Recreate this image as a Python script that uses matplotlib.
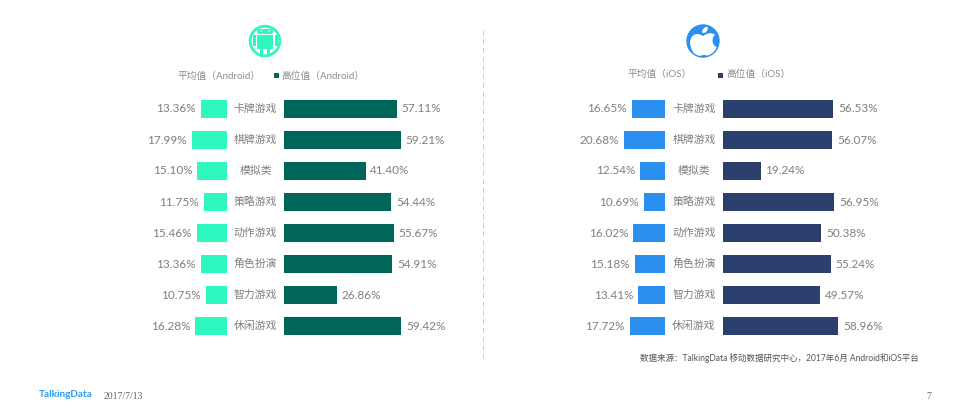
import matplotlib
matplotlib.use("Agg")
import matplotlib.pyplot as plt
from matplotlib.patches import Circle, Rectangle, FancyBboxPatch, Ellipse, PathPatch
from matplotlib.path import Path

W, H = 968, 419
FONT = ['Lato', 'Noto Sans CJK SC', 'DejaVu Sans']
plt.rcParams['font.family'] = FONT

categories = ['卡牌游戏', '棋牌游戏', '模拟类', '策略游戏', '动作游戏', '角色扮演', '智力游戏', '休闲游戏']
android_avg = [13.36, 17.99, 15.10, 11.75, 15.46, 13.36, 10.75, 16.28]
android_high = [57.11, 59.21, 41.40, 54.44, 55.67, 54.91, 26.86, 59.42]
ios_avg = [16.65, 20.68, 12.54, 10.69, 16.02, 15.18, 13.41, 17.72]
ios_high = [56.53, 56.07, 19.24, 56.95, 50.38, 55.24, 49.57, 58.96]

GREY = '#7f7f7f'
C_AA, C_AH = '#2ef7bf', '#00665a'
C_IA, C_IH = '#2b8ff0', '#2c406e'

fig = plt.figure(figsize=(W / 100, H / 100), dpi=100, facecolor='white')


def panel(x0, x1, scale, reverse=False):
    ax = fig.add_axes([x0 / W, 1 - 341.5 / H, (x1 - x0) / W, 248 / H])
    span = (x1 - x0) / scale
    ax.set_xlim(span, 0) if reverse else ax.set_xlim(0, span)
    ax.set_ylim(7.5, -0.5)
    ax.axis('off')
    return ax


def bars(ax, vals, color, reverse=False):
    ax.barh(range(len(vals)), vals, height=0.55, color=color)
    for i, v in enumerate(vals):
        ax.annotate(f'{v:.2f}%', (v, i), xytext=(-3.5 if reverse else 3.5, 0), textcoords='offset points',
                    ha='right' if reverse else 'left', va='center', fontsize=8.5, color=GREY,
                    annotation_clip=False)


for (ax_x, avg, high, ca, ch, sa, sh) in [
    ((127, 227, 284, 420), android_avg, android_high, C_AA, C_AH, 1.97, 1.97),
    ((565, 665, 723, 860), ios_avg, ios_high, C_IA, C_IH, 1.98, 1.95),
]:
    a = panel(ax_x[0], ax_x[1], sa, reverse=True)
    bars(a, avg, ca, reverse=True)
    b = panel(ax_x[2], ax_x[3], sh)
    bars(b, high, ch)
    mid = (ax_x[1] + ax_x[2]) / 2
    for i, c in enumerate(categories):
        a.annotate(c, ((mid) / W, 1 - (108.5 + 31 * i) / H), xycoords='figure fraction', ha='center',
                   va='center', fontsize=7.8, color=GREY, annotation_clip=False)

# overlay in pixel units for furniture
ov = fig.add_axes([0, 0, 1, 1], zorder=5)
ov.set_xlim(0, W)
ov.set_ylim(H, 0)
ov.axis('off')
ov.patch.set_alpha(0)

# divider
ov.plot([483, 483], [30, 361], color='#cccccc', lw=0.7, ls=(0, (5, 4)))

# Android icon
ov.add_patch(Circle((265, 41), 14.8, fc='none', ec=C_AA, lw=2))
ov.add_patch(FancyBboxPatch((257, 29), 16, 5, boxstyle='round,pad=0,rounding_size=2.5', fc=C_AA, ec='none'))
ov.add_patch(Rectangle((257, 35), 16, 14, fc=C_AA, ec='none'))
ov.add_patch(Rectangle((253, 35), 2.6, 11, fc=C_AA, ec='none'))
ov.add_patch(Rectangle((275, 35), 2.6, 11, fc=C_AA, ec='none'))
ov.add_patch(Rectangle((260, 49), 3, 8, fc=C_AA, ec='none'))
ov.add_patch(Rectangle((267, 49), 3, 8, fc=C_AA, ec='none'))
ov.add_patch(Circle((261, 31), 0.8, fc='white', ec='none'))
ov.add_patch(Circle((269, 31), 0.8, fc='white', ec='none'))

# Apple icon
ov.add_patch(Circle((703, 41), 16, fc=C_IA, ec='none'))
apple = Path([(703, 36), (697, 32), (691, 34), (690, 42), (690, 48), (694, 56), (698, 56),
              (701, 56), (702, 55), (704, 55), (706, 55), (707, 56), (709, 56), (712, 56), (715, 51), (717, 47),
              (712, 46), (711, 38), (715, 35), (712, 32), (707, 33), (703, 36)],
             [Path.MOVETO] + [Path.CURVE4] * 21)
ov.add_patch(PathPatch(apple, fc='white', ec='none'))
ov.add_patch(Ellipse((705, 30), 4, 7.5, angle=40, fc='white', ec='none'))
ov.add_patch(Circle((703, 41), 16, fc='none', ec=C_IA, lw=1))

# legends
ov.text(177, 76, '平均值（Android）', fontsize=7, color='#8c8c8c', va='center', ha='left')
ov.add_patch(Rectangle((274, 73.5), 5, 5, fc=C_AH, ec='none'))
ov.text(281, 76, '高位值（Android）', fontsize=7, color='#8c8c8c', va='center', ha='left')
ov.text(628, 74.5, '平均值（iOS）', fontsize=7, color='#8c8c8c', va='center', ha='left')
ov.add_patch(Rectangle((718, 73), 5, 5, fc=C_IH, ec='none'))
ov.text(726, 74.5, '高位值（iOS）', fontsize=7, color='#8c8c8c', va='center', ha='left')

# source and footer
ov.text(640, 358, '数据来源：TalkingData 移动数据研究中心，2017年6月 Android和iOS平台', fontsize=6.15, color='#555555',
        va='center', ha='left')
ov.text(39, 394.5, 'TalkingData', fontsize=7.2, color='#2b9bf0', fontweight='bold', va='center', ha='left')
ov.text(104, 396, '2017/7/13', fontsize=7, color='#666666', family='Liberation Serif', va='center', ha='left')
ov.text(926, 396, '7', fontsize=7, color='#666666', family='Liberation Serif', va='center', ha='left')

fig.savefig('out.png', dpi=100, facecolor='white')
